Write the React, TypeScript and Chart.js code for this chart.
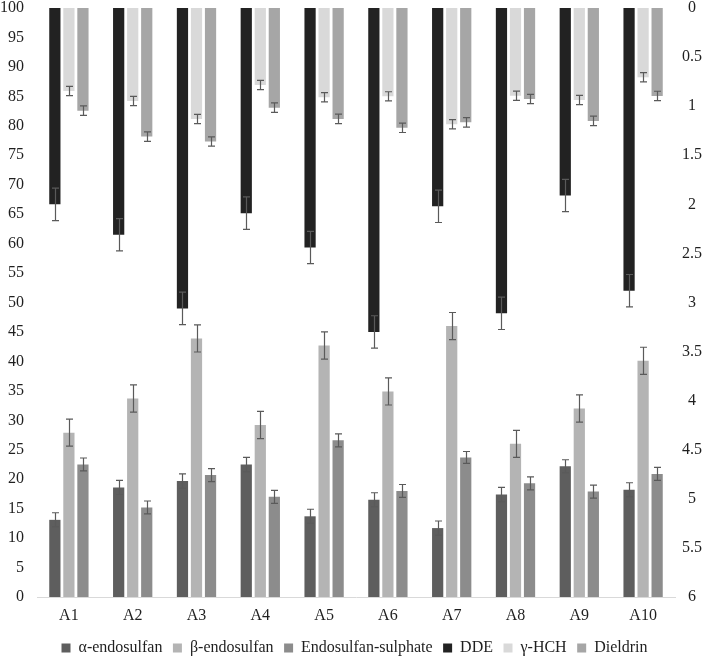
import React, { useEffect, useRef } from 'react';
import { Chart, registerables } from 'chart.js';

Chart.register(...registerables);

const categories = ['A1', 'A2', 'A3', 'A4', 'A5', 'A6', 'A7', 'A8', 'A9', 'A10'];

// Left axis series (0-100)
const alphaEndosulfan = [13.1, 18.6, 19.7, 22.5, 13.7, 16.5, 11.7, 17.4, 22.2, 18.2];
const alphaErr = [1.2, 1.2, 1.2, 1.2, 1.2, 1.2, 1.2, 1.2, 1.1, 1.2];
const betaEndosulfan = [27.9, 33.7, 43.9, 29.2, 42.7, 34.9, 46.0, 26.0, 32.0, 40.1];
const betaErr = [2.3, 2.3, 2.3, 2.3, 2.3, 2.3, 2.3, 2.3, 2.3, 2.3];
const endosulfanSulphate = [22.5, 15.2, 20.7, 17.0, 26.6, 18.0, 23.7, 19.3, 17.9, 20.9];
const sulphateErr = [1.1, 1.1, 1.1, 1.1, 1.1, 1.1, 1.0, 1.1, 1.1, 1.1];

// Right axis series (0-6, reversed)
const dde = [2.0, 2.31, 3.06, 2.09, 2.44, 3.3, 2.02, 3.11, 1.91, 2.88];
const ddeErr = [0.165, 0.165, 0.165, 0.165, 0.165, 0.165, 0.165, 0.165, 0.165, 0.165];
const gammaHCH = [0.845, 0.947, 1.13, 0.784, 0.91, 0.9, 1.185, 0.893, 0.937, 0.706];
const gammaErr = [0.047, 0.047, 0.047, 0.047, 0.047, 0.047, 0.047, 0.047, 0.047, 0.047];
const dieldrin = [1.046, 1.31, 1.36, 1.015, 1.13, 1.22, 1.165, 0.927, 1.15, 0.896];
const dieldrinErr = [0.048, 0.048, 0.048, 0.048, 0.048, 0.048, 0.048, 0.048, 0.048, 0.048];

const seriesNames = ['α-endosulfan', 'β-endosulfan', 'Endosulfan-sulphate', 'DDE', 'γ-HCH', 'Dieldrin'];

const FONT = "'Liberation Serif', 'Times New Roman', serif";
const TEXT = '#1f1f1f';

const errorBarPlugin = {
  id: 'errorBars',
  afterDatasetsDraw(chart: any) {
    const ctx = chart.ctx;
    ctx.save();
    ctx.strokeStyle = '#5a5a5a';
    ctx.lineWidth = 1.2;
    chart.data.datasets.forEach((ds: any, i: number) => {
      if (!chart.isDatasetVisible(i)) return;
      const meta = chart.getDatasetMeta(i);
      const scale = chart.scales[ds.yAxisID];
      const errs: number[] = ds.errorValues || [];
      meta.data.forEach((bar: any, j: number) => {
        const v = ds.data[j];
        const e = errs[j] || 0;
        const yA = scale.getPixelForValue(v + e);
        const yB = scale.getPixelForValue(v - e);
        const x = Math.round(bar.x) + 0.5;
        ctx.beginPath();
        ctx.moveTo(x, yA);
        ctx.lineTo(x, yB);
        ctx.moveTo(x - 3.5, yA);
        ctx.lineTo(x + 3.5, yA);
        ctx.moveTo(x - 3.5, yB);
        ctx.lineTo(x + 3.5, yB);
        ctx.stroke();
      });
    });
    ctx.restore();
  },
};

export default function App() {
  const canvasRef = useRef<HTMLCanvasElement | null>(null);

  useEffect(() => {
    if (!canvasRef.current) return;
    const barOpts = { categoryPercentage: 0.66, barPercentage: 0.8, borderWidth: 0 };
    const chart = new Chart(canvasRef.current, {
      type: 'bar',
      data: {
        labels: categories,
        datasets: [
          { label: seriesNames[0], data: alphaEndosulfan, errorValues: alphaErr, backgroundColor: '#5e5e5e', stack: 's1', yAxisID: 'y', ...barOpts } as any,
          { label: seriesNames[1], data: betaEndosulfan, errorValues: betaErr, backgroundColor: '#b4b4b4', stack: 's2', yAxisID: 'y', ...barOpts } as any,
          { label: seriesNames[2], data: endosulfanSulphate, errorValues: sulphateErr, backgroundColor: '#8c8c8c', stack: 's3', yAxisID: 'y', ...barOpts } as any,
          { label: seriesNames[3], data: dde, errorValues: ddeErr, backgroundColor: '#222222', stack: 's1', yAxisID: 'y2', ...barOpts } as any,
          { label: seriesNames[4], data: gammaHCH, errorValues: gammaErr, backgroundColor: '#d9d9d9', stack: 's2', yAxisID: 'y2', ...barOpts } as any,
          { label: seriesNames[5], data: dieldrin, errorValues: dieldrinErr, backgroundColor: '#a6a6a6', stack: 's3', yAxisID: 'y2', ...barOpts } as any,
        ],
      },
      options: {
        animation: false,
        responsive: true,
        maintainAspectRatio: false,
        layout: { padding: { top: 0, left: 0, right: 0, bottom: -8 } },
        plugins: {
          legend: {
            position: 'bottom',
            labels: {
              boxWidth: 9,
              boxHeight: 9,
              padding: 10.5,
              color: TEXT,
              font: { family: FONT, size: 16 },
            },
          },
          tooltip: { enabled: false },
        },
        scales: {
          x: {
            type: 'category',
            position: 'bottom',
            grid: { display: false, drawTicks: false },
            border: { display: true, color: '#d9d9d9', width: 1 },
            ticks: { color: TEXT, padding: 9, font: { family: FONT, size: 16 } },
            afterFit(scale: any) { scale.height = 32.5; },
          },
          y: {
            position: 'left',
            min: 0,
            max: 100,
            grid: { display: false, drawTicks: false },
            border: { display: false },
            ticks: { stepSize: 5, padding: 13, color: TEXT, font: { family: FONT, size: 16, lineHeight: 1 } },
            afterFit(scale: any) {
              scale.width = 37;
              scale.paddingTop = 8;
              scale.paddingBottom = 8;
            },
          },
          y2: {
            position: 'right',
            reverse: true,
            min: 0,
            max: 6,
            grid: { display: false, drawTicks: false },
            border: { display: false },
            ticks: {
              stepSize: 0.5,
              padding: 7,
              crossAlign: 'center',
              color: TEXT,
              font: { family: FONT, size: 16, lineHeight: 1 },
              callback: (v: any) => String(v),
            },
            afterFit(scale: any) {
              scale.width = 34;
              scale.paddingTop = 8;
              scale.paddingBottom = 8;
            },
          },
        },
      } as any,
      plugins: [errorBarPlugin],
    });
    return () => chart.destroy();
  }, []);

  return (
    <div style={{ position: 'absolute', left: 0, top: 0, width: 709, height: 658 }}>
      <canvas ref={canvasRef} />
    </div>
  );
}
